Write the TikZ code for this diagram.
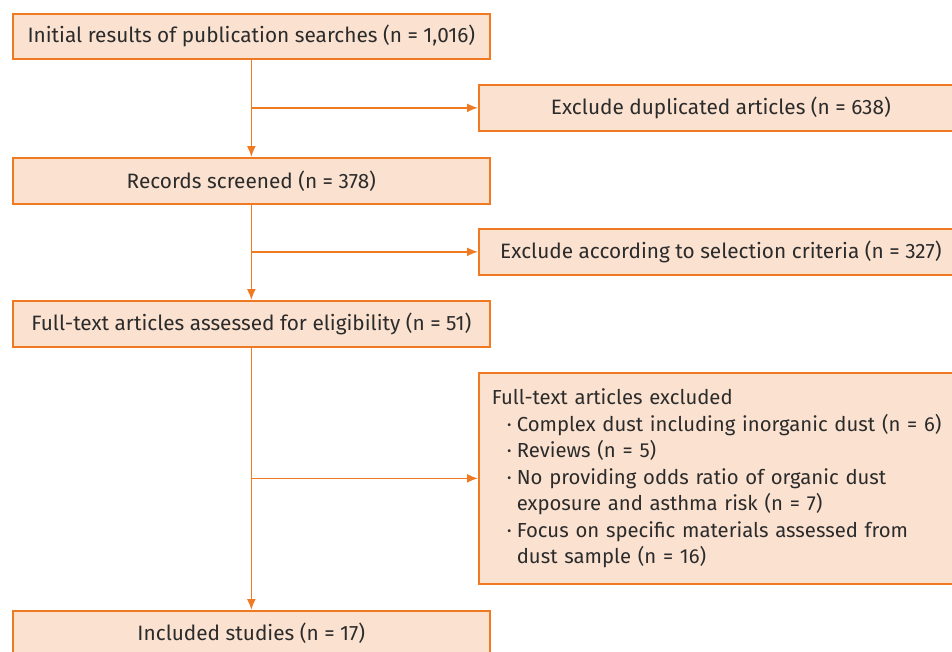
\documentclass[tikz,border=0pt]{standalone}
\usepackage{fontspec}
\setmainfont{Fira Sans}
\usetikzlibrary{arrows.meta}
\definecolor{edge}{HTML}{F07A22}
\definecolor{boxfill}{HTML}{FBE2D0}
\definecolor{ink}{HTML}{2B2B2B}
\tikzset{
  box/.style={draw=edge, fill=boxfill, line width=1.7pt, text=ink, inner sep=0pt,
    anchor=north west, font=\fontsize{20.8}{24}\selectfont},
  arr/.style={draw=edge, line width=1.7pt, -{Latex[length=11pt,width=9pt]}},
  ln/.style={draw=edge, line width=1.7pt}
}
\newcommand{\bl}{\hspace*{15pt}\makebox[10pt][l]{·}}
\begin{document}
\begin{tikzpicture}[x=1pt,y=-1pt]
\clip (0,0) rectangle (952,651);
\node[box, minimum width=477pt, minimum height=45pt] (init) at (12,13) {Initial results of publication searches (n = 1,016)};
\node[box, minimum width=477pt, minimum height=46pt] (rec) at (12,157) {Records screened (n = 378)};
\node[box, minimum width=477pt, minimum height=46pt] (full) at (12,300) {Full-text articles assessed for eligibility (n = 51)};
\node[box, minimum width=477pt, minimum height=45pt] (incl) at (12,610) {Included studies (n = 17)};
\node[box, minimum width=484pt, minimum height=46pt] (dup) at (478,84) {Exclude duplicated articles (n = 638)};
\node[box, minimum width=484pt, minimum height=46pt] (crit) at (478,228) {Exclude according to selection criteria (n = 327)};
\node[box, minimum width=484pt, minimum height=211pt, text width=480pt, inner xsep=13pt, align=left,
  font=\fontsize{20.3}{26.5}\selectfont] (excl) at (478,372) {Full-text articles excluded\\
\bl Complex dust including inorganic dust (n~=~6)\\
\bl Reviews (n = 5)\\
\bl No providing odds ratio of organic dust\\
\hspace*{25pt}exposure and asthma risk (n = 7)\\
\bl Focus on specific materials assessed from\\
\hspace*{25pt}dust sample (n = 16)};
\coordinate (b1) at (init.south |- dup.west);
\coordinate (b2) at (init.south |- crit.west);
\coordinate (b3) at (init.south |- excl.west);
\draw[arr] (init) -- (rec);
\draw[arr] (rec) -- (full);
\draw[arr] (full) -- (incl);
\draw[arr] (b1) -- (dup.west);
\draw[arr] (b2) -- (crit.west);
\draw[arr] (b3) -- (excl.west);
\end{tikzpicture}
\end{document}
